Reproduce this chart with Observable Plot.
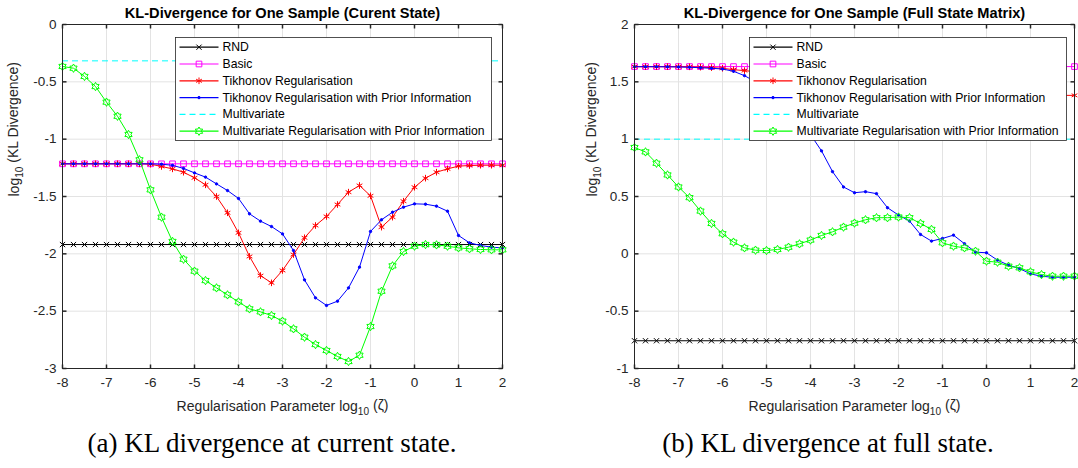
<!DOCTYPE html>
<html><head><meta charset="utf-8">
<script src="https://cdn.jsdelivr.net/npm/d3@7"></script>
<script src="https://cdn.jsdelivr.net/npm/@observablehq/plot@0.6"></script>
<style>
body{margin:0;background:#fff;}
#wrap{position:relative;width:1078px;height:468px;overflow:hidden;background:#fff;font-family:"Liberation Sans",Arial,sans-serif;}
.panel{position:absolute;top:0;}
.cap{position:absolute;top:430px;font-family:"Liberation Serif","DejaVu Serif",serif;font-size:27px;line-height:27px;white-space:nowrap;transform:translateX(-50%);color:#000;}
</style></head><body><div id="wrap"></div>
<script>
// ---------- data ----------
const lambda = [-8,-7.75,-7.5,-7.25,-7,-6.75,-6.5,-6.25,-6,-5.75,-5.5,-5.25,-5,-4.75,-4.5,-4.25,-4,-3.75,-3.5,-3.25,-3,-2.75,-2.5,-2.25,-2,-1.75,-1.5,-1.25,-1,-0.75,-0.5,-0.25,0,0.25,0.5,0.75,1,1.25,1.5,1.75,2];
const seriesNames = ["RND","Basic","Tikhonov Regularisation","Tikhonov Regularisation with Prior Information","Multivariate","Multivariate Regularisation with Prior Information"];
const seriesColors = ["#000000","#ff00ff","#ff0000","#0000ff","#00ffff","#00ff00"];
const xTicks = [-8,-7,-6,-5,-4,-3,-2,-1,0,1,2];
const yTicksA = [-3,-2.5,-2,-1.5,-1,-0.5,0];
const yTicksB = [-1,-0.5,0,0.5,1,1.5,2];
const titles = ["KL-Divergence for One Sample (Curent State)","KL-Divergence for One Sample (Full State Matrix)"];
const captions = ["(a) KL divergence at current state.","(b) KL divergence at full state."];
const yLabel = "log\u2081\u2080 (KL Divergence)";
const xLabel = "Regularisation Parameter log\u2081\u2080 (\u03B6)";

// (a) current state
const rndA = -1.919;
const basicA = -1.215;
const multiA = -0.317;
const tikA = [-1.215,-1.215,-1.215,-1.215,-1.215,-1.215,-1.215,-1.215,-1.218,-1.238,-1.259,-1.288,-1.337,-1.398,-1.500,-1.642,-1.817,-2.023,-2.190,-2.253,-2.145,-2.006,-1.860,-1.753,-1.674,-1.570,-1.462,-1.404,-1.494,-1.767,-1.680,-1.541,-1.419,-1.340,-1.288,-1.259,-1.235,-1.230,-1.227,-1.227,-1.227];
const tikPriorA = [-1.215,-1.215,-1.215,-1.215,-1.215,-1.215,-1.215,-1.215,-1.215,-1.218,-1.228,-1.255,-1.294,-1.331,-1.390,-1.448,-1.517,-1.651,-1.715,-1.762,-1.826,-1.971,-2.227,-2.384,-2.450,-2.413,-2.297,-2.116,-1.805,-1.703,-1.637,-1.593,-1.564,-1.567,-1.584,-1.628,-1.840,-1.904,-1.927,-1.942,-1.948];
const mvPriorA = [-0.366,-0.381,-0.453,-0.541,-0.677,-0.800,-0.959,-1.180,-1.442,-1.680,-1.892,-2.047,-2.151,-2.233,-2.297,-2.358,-2.419,-2.480,-2.506,-2.538,-2.587,-2.654,-2.727,-2.791,-2.843,-2.895,-2.939,-2.884,-2.634,-2.326,-2.105,-1.980,-1.933,-1.919,-1.922,-1.933,-1.948,-1.956,-1.962,-1.965,-1.965];

// (b) full state matrix
const rndB = -0.758;
const basicB = 1.633;
const multiB = 1.0;
const tikB = [1.632,1.632,1.632,1.632,1.632,1.631,1.628,1.624,1.618,1.606,1.598,1.588,1.577,1.565,1.552,1.539,1.526,1.513,1.500,1.488,1.477,1.466,1.456,1.447,1.438,1.430,1.423,1.416,1.410,1.405,1.400,1.396,1.393,1.390,1.388,1.386,1.385,1.384,1.383,1.382,1.382];
const tikPriorB = [1.632,1.632,1.632,1.631,1.630,1.627,1.623,1.618,1.612,1.592,1.554,1.500,1.440,1.370,1.290,1.180,1.040,0.898,0.717,0.583,0.533,0.542,0.525,0.402,0.338,0.286,0.169,0.111,0.134,0.163,0.088,0.015,0.009,-0.055,-0.099,-0.128,-0.175,-0.195,-0.204,-0.204,-0.204];
const mvPriorB = [0.927,0.889,0.790,0.688,0.583,0.490,0.373,0.265,0.175,0.102,0.052,0.032,0.029,0.038,0.058,0.087,0.120,0.160,0.192,0.233,0.268,0.297,0.315,0.315,0.321,0.315,0.265,0.213,0.096,0.067,0.052,0.023,-0.064,-0.073,-0.108,-0.122,-0.157,-0.181,-0.195,-0.195,-0.195];

// ---------- symbols ----------
const hexagram = {draw(ctx, size){
  const R = Math.sqrt(size/Math.PI), r = R/Math.sqrt(3);
  for (let k = 0; k < 12; k++){
    const a = -Math.PI/2 + k*Math.PI/6, rr = k % 2 ? r : R;
    const px = rr*Math.cos(a), py = rr*Math.sin(a);
    if (k) ctx.lineTo(px, py); else ctx.moveTo(px, py);
  }
  ctx.closePath();
}};
const TL = 4;
const tickUp = {draw(c){c.moveTo(0,0);c.lineTo(0,-TL);}};
const tickDown = {draw(c){c.moveTo(0,0);c.lineTo(0,TL);}};
const tickIn = {draw(c){c.moveTo(0,0);c.lineTo(TL,0);}};
const tickInR = {draw(c){c.moveTo(0,0);c.lineTo(-TL,0);}};
const hline = {draw(c){c.moveTo(-19.5,0);c.lineTo(19.5,0);}};

const markerOpts = [
  {symbol:"times", r:2.5},
  {symbol:"square", r:3.2},
  {symbol:"asterisk", r:3.1},
  {symbol:"circle", r:1.2, fillC:true},
  null,
  {symbol:hexagram, r:4.2}
];

const axisColor = "#262626";
const gridColor = "#e3e3e3";
const FONT = '"Liberation Sans", Arial, sans-serif';

function panel(cfg){
  const {title, rnd, basic, tik, tikPrior, multi, mvPrior, yDomain, yTicks, width, marginLeft, marginRight, legendLeft, legendRight, yLabelDx} = cfg;
  const series = [
    lambda.map(x => ({x, y: rnd})),
    lambda.map(x => ({x, y: basic})),
    lambda.map((x,i) => ({x, y: tik[i]})),
    lambda.map((x,i) => ({x, y: tikPrior[i]})),
    null,
    lambda.map((x,i) => ({x, y: mvPrior[i]}))
  ];
  const marks = [
    Plot.gridX(xTicks, {stroke: gridColor, strokeOpacity: 1}),
    Plot.gridY(yTicks, {stroke: gridColor, strokeOpacity: 1})
  ];
  series.forEach((data, k) => {
    const color = seriesColors[k];
    if (k === 4){
      marks.push(Plot.ruleY([multi], {stroke: color, strokeWidth: 1, strokeDasharray: "6,4"}));
      return;
    }
    marks.push(Plot.line(data, {x:"x", y:"y", stroke: color, strokeWidth: 1}));
    const m = markerOpts[k];
    marks.push(Plot.dot(data, {x:"x", y:"y", symbol: m.symbol, r: m.r, stroke: color, strokeWidth: 1, fill: m.fillC ? color : "none"}));
  });
  // legend
  const rowY0 = 22.7, rowStep = 16.8;
  marks.push(Plot.frame({fill:"white", stroke: axisColor, strokeWidth: 0.8, insetLeft: legendLeft, insetRight: legendRight, insetTop: 13, insetBottom: 228}));
  seriesNames.forEach((name, k) => {
    const color = seriesColors[k];
    const dy = rowY0 + k*rowStep;
    marks.push(Plot.dot([name], {frameAnchor:"top-left", dx: legendLeft + 23.5, dy, symbol: hline, r: 3, stroke: color, strokeWidth: 1.2, fill:"none", strokeDasharray: k === 4 ? "6,4" : null}));
    const m = markerOpts[k];
    if (m) marks.push(Plot.dot([name], {frameAnchor:"top-left", dx: legendLeft + 23.5, dy, symbol: m.symbol, r: m.r, stroke: color, strokeWidth: 1, fill: m.fillC ? color : "none"}));
    marks.push(Plot.text([name], {frameAnchor:"top-left", dx: legendLeft + 47, dy, text: d => d, textAnchor:"start", lineAnchor:"middle", fontSize: 12.2, fill:"#000"}));
  });
  // box + inward ticks
  marks.push(Plot.frame({stroke: axisColor, strokeWidth: 1}));
  marks.push(Plot.dot(xTicks, {x: d => d, frameAnchor:"bottom", symbol: tickUp, r: 1, stroke: axisColor, fill:"none"}));
  marks.push(Plot.dot(xTicks, {x: d => d, frameAnchor:"top", symbol: tickDown, r: 1, stroke: axisColor, fill:"none"}));
  marks.push(Plot.dot(yTicks, {y: d => d, frameAnchor:"left", symbol: tickIn, r: 1, stroke: axisColor, fill:"none"}));
  marks.push(Plot.dot(yTicks, {y: d => d, frameAnchor:"right", symbol: tickInR, r: 1, stroke: axisColor, fill:"none"}));
  // tick labels
  marks.push(Plot.axisX(xTicks, {anchor:"bottom", tickSize: 0, tickPadding: 9, fontSize: 13.5, fill: axisColor, tickFormat: d => String(d), label: null}));
  marks.push(Plot.axisY(yTicks, {anchor:"left", tickSize: 0, tickPadding: 6, fontSize: 13.5, fill: axisColor, tickFormat: d => String(d), label: null}));
  // titles and labels
  marks.push(Plot.text([title], {frameAnchor:"top", dy: -11, text: d => d, fontSize: 14.6, fontWeight: "bold", fill:"#000", lineAnchor:"middle"}));
  marks.push(Plot.text([xLabel], {frameAnchor:"bottom", dy: 38, text: d => d, fontSize: 14, fill: axisColor, lineAnchor:"middle"}));
  marks.push(Plot.text([yLabel], {frameAnchor:"left", dx: yLabelDx, rotate: -90, text: d => d, fontSize: 14, fill: axisColor, lineAnchor:"middle"}));

  const svg = Plot.plot({
    width, height: 420,
    marginTop: 24, marginBottom: 52, marginLeft, marginRight,
    x: {domain: [-8, 2], label: null},
    y: {domain: yDomain, label: null},
    style: {fontFamily: FONT, background: "transparent", overflow: "visible"},
    marks
  });
  // real subscripts for "log10"
  d3.select(svg).selectAll("text").each(function(){
    const node = d3.select(this);
    const tspans = node.selectAll("tspan");
    const target = tspans.empty() ? node : tspans.filter(function(){ return this.textContent.includes("\u2081\u2080"); });
    target.each(function(){
      const t = this.textContent;
      const idx = t.indexOf("\u2081\u2080");
      if (idx < 0) return;
      const el = d3.select(this);
      el.text(null);
      el.append("tspan").text(t.slice(0, idx));
      el.append("tspan").attr("dy", "0.35em").attr("font-size", "0.72em").text("10");
      el.append("tspan").attr("dy", "-0.35em").text(t.slice(idx + 2));
    });
  });
  return svg;
}

const wrap = document.getElementById("wrap");
const pA = panel({title: titles[0], rnd: rndA, basic: basicA, tik: tikA, tikPrior: tikPriorA, multi: multiA, mvPrior: mvPriorA,
  yDomain: [-3, 0], yTicks: yTicksA, width: 540, marginLeft: 62, marginRight: 38, legendLeft: 113, legendRight: 11, yLabelDx: -48});
const pB = panel({title: titles[1], rnd: rndB, basic: basicB, tik: tikB, tikPrior: tikPriorB, multi: multiB, mvPrior: mvPriorB,
  yDomain: [-1, 2], yTicks: yTicksB, width: 538, marginLeft: 94, marginRight: 4, legendLeft: 115, legendRight: 8, yLabelDx: -42});
const dA = document.createElement("div"); dA.className = "panel"; dA.style.left = "0px"; dA.appendChild(pA); wrap.appendChild(dA);
const dB = document.createElement("div"); dB.className = "panel"; dB.style.left = "540px"; dB.appendChild(pB); wrap.appendChild(dB);
[[captions[0], 272], [captions[1], 828]].forEach(([t, cx]) => {
  const c = document.createElement("div"); c.className = "cap"; c.style.left = cx + "px"; c.textContent = t; wrap.appendChild(c);
});
</script></body></html>
